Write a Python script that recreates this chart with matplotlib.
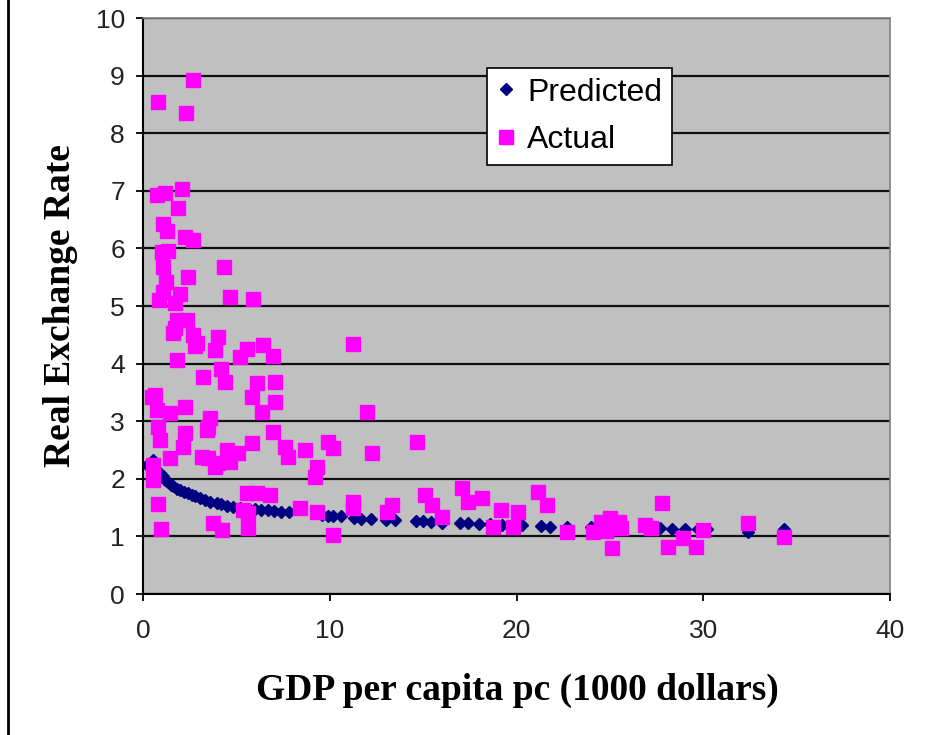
import matplotlib
matplotlib.use("Agg")
import matplotlib.pyplot as plt
from matplotlib.lines import Line2D

# ---- data ----
actual_x = [2.68, 0.80, 2.30, 0.75, 1.18, 2.09, 1.87,
            1.07, 1.29, 2.25, 2.70, 1.00, 1.35, 1.07, 4.34,
            2.41, 1.25, 1.07, 1.98, 0.85, 1.70, 4.66, 5.89,
            1.82, 2.36, 1.71, 2.68, 1.61, 2.89, 2.78,
            4.02, 3.86, 5.57, 5.19, 6.43, 6.96, 11.24,
            1.82, 4.18, 3.21, 4.39, 6.10, 7.07,
            0.48, 0.64, 0.75, 5.84, 7.07,
            2.25, 1.45, 3.59, 6.37, 12.00,
            0.80, 3.48, 2.25, 3.43, 6.96, 0.91,
            5.84, 14.67, 9.91,
            2.14, 4.50, 5.09, 7.60, 8.67, 10.17, 12.26,
            3.16, 1.45, 3.48, 7.76, 4.66, 4.02, 3.86, 9.32,
            0.54, 9.21, 0.54,
            5.57, 6.10, 6.80, 17.08, 21.15, 15.10, 18.15, 0.80,
            11.24, 13.33, 15.50, 21.63, 17.40, 27.80,
            5.35, 8.41, 11.24, 9.32, 13.07, 19.17, 20.08, 5.62,
            16.00, 3.75, 5.62, 0.96, 4.23,
            10.17, 18.74, 19.80, 22.70, 24.10, 24.50, 25.00, 25.50, 24.80, 25.60, 25.10,
            26.90, 27.20, 28.10, 28.90, 29.60, 30.00, 32.40, 34.30]
actual_y = [8.92, 8.54, 8.35, 6.93, 6.96, 7.03, 6.70,
            6.42, 6.30, 6.20, 6.15, 5.94, 5.95, 5.68, 5.68,
            5.50, 5.42, 5.24, 5.20, 5.10, 5.05, 5.15, 5.12,
            4.76, 4.76, 4.62, 4.50, 4.53, 4.36, 4.30,
            4.46, 4.24, 4.25, 4.12, 4.32, 4.13, 4.34,
            4.06, 3.90, 3.77, 3.68, 3.66, 3.68,
            3.42, 3.45, 3.19, 3.42, 3.33,
            3.25, 3.14, 3.06, 3.16, 3.16,
            2.90, 2.90, 2.80, 2.85, 2.81, 2.67,
            2.63, 2.64, 2.64,
            2.55, 2.50, 2.45, 2.55, 2.50, 2.53, 2.45,
            2.38, 2.36, 2.36, 2.38, 2.29, 2.27, 2.20, 2.20,
            2.24, 2.03, 1.98,
            1.75, 1.75, 1.72, 1.84, 1.77, 1.72, 1.67, 1.56,
            1.60, 1.54, 1.54, 1.54, 1.60, 1.58,
            1.46, 1.49, 1.49, 1.42, 1.42, 1.46, 1.42, 1.41,
            1.34, 1.23, 1.15, 1.13, 1.11,
            1.02, 1.16, 1.16, 1.08, 1.08, 1.25, 1.32, 1.25, 1.10, 1.15, 0.80,
            1.20, 1.15, 0.82, 0.97, 0.82, 1.11, 1.23, 0.99]

pred_x = [0.21, 0.54, 0.90, 1.07, 1.20, 1.35, 1.50, 1.61, 1.80, 2.00,
          2.20, 2.40, 2.60, 2.80, 3.05, 3.30, 3.60, 3.96, 4.20, 4.50,
          4.82, 5.20, 5.70, 6.00, 6.30, 6.70, 7.00, 7.40, 7.80, 9.60,
          9.90, 10.20, 10.60, 11.30, 11.70, 12.20, 13.00, 13.50, 14.60, 15.00,
          15.40, 16.00, 17.00, 17.40, 18.00, 18.60, 19.20, 19.80, 20.30, 21.30,
          21.80, 22.70, 24.00, 24.50, 25.20, 25.60, 26.90, 27.70, 28.30, 29.00,
          29.70, 30.20, 32.40, 34.30]
pred_y = [2.24, 2.32, 2.10, 2.05, 1.98, 1.95, 1.90, 1.87, 1.83, 1.80,
          1.77, 1.75, 1.72, 1.70, 1.66, 1.63, 1.60, 1.58, 1.56, 1.53,
          1.51, 1.49, 1.48, 1.47, 1.46, 1.45, 1.44, 1.43, 1.42, 1.37,
          1.36, 1.35, 1.35, 1.32, 1.31, 1.30, 1.28, 1.28, 1.27, 1.26,
          1.25, 1.24, 1.23, 1.23, 1.22, 1.21, 1.20, 1.20, 1.19, 1.18,
          1.17, 1.17, 1.16, 1.16, 1.15, 1.15, 1.14, 1.14, 1.13, 1.13,
          1.12, 1.12, 1.08, 1.13]

x_ticks = [0, 10, 20, 30, 40]
y_ticks = [0, 1, 2, 3, 4, 5, 6, 7, 8, 9, 10]
x_label = "GDP per capita pc (1000 dollars)"
y_label = "Real Exchange Rate"
series_names = ["Predicted", "Actual"]

# ---- figure ----
W, H = 946, 735
fig = plt.figure(figsize=(W / 100, H / 100), dpi=100)
fig.patch.set_facecolor("white")

L, R, T, B = 143, 890, 18, 594
ax = fig.add_axes([L / W, 1 - B / H, (R - L) / W, (B - T) / H])
ax.set_facecolor("#C0C0C0")

ax.plot(pred_x, pred_y, linestyle="none", marker="D", markersize=5.8,
        color="#000080", markeredgecolor="#000080", label=series_names[0], zorder=3)
ax.plot(actual_x, actual_y, linestyle="none", marker="s", markersize=10.6,
        color="#FF00FF", markeredgecolor="#FF00FF", label=series_names[1], zorder=4)

ax.set_xlim(0, 40)
ax.set_ylim(0, 10)
ax.set_xticks(x_ticks)
ax.set_yticks(y_ticks)
ax.yaxis.grid(True, color="#111111", linewidth=1.6, zorder=1)
ax.set_axisbelow(True)

ax.tick_params(axis="both", direction="out", length=5, width=1.3, colors="black")
ax.tick_params(axis="x", pad=13)
ax.tick_params(axis="y", pad=8)
for lab in ax.get_xticklabels() + ax.get_yticklabels():
    lab.set_fontfamily("Liberation Sans")
    lab.set_fontsize(19)
    lab.set_color("#222222")

for s in ["left", "bottom"]:
    ax.spines[s].set_color("black")
    ax.spines[s].set_linewidth(1.5)
for s in ["top", "right"]:
    ax.spines[s].set_color("#808080")
    ax.spines[s].set_linewidth(1.2)

fig.text(60 / W, 1 - 306 / H, y_label, rotation=90, ha="center", va="center",
         fontfamily="Liberation Serif", fontweight="bold", fontsize=27)
fig.text(517 / W, 1 - 690 / H, x_label, ha="center", va="center",
         fontfamily="Liberation Serif", fontweight="bold", fontsize=27)

leg = ax.legend(loc="upper left",
                bbox_to_anchor=((487 - L) / (R - L), (B - 68) / (B - T)),
                borderaxespad=0, frameon=True, fancybox=False, framealpha=1,
                edgecolor="black", facecolor="white",
                prop={"family": "Liberation Sans", "size": 23},
                handlelength=0.6, handletextpad=0.35, borderpad=0.3,
                labelspacing=0.55)
leg.get_frame().set_linewidth(1.2)

# left border line of the picture
fig.add_artist(Line2D([8 / W, 8 / W], [0, 1], color="black", linewidth=2,
                      transform=fig.transFigure))

fig.savefig("out.png", dpi=100)
